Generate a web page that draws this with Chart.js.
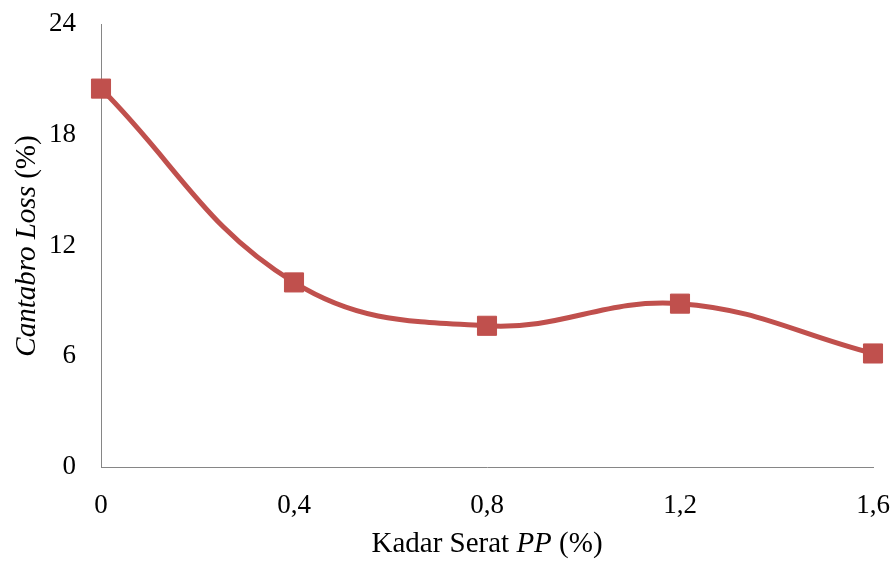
<!DOCTYPE html>
<html>
<head>
<meta charset="utf-8">
<script src="https://cdn.jsdelivr.net/npm/chart.js@4.4.0/dist/chart.umd.min.js"></script>
<style>
  html, body { margin: 0; padding: 0; background: #fff; }
  #wrap { width: 895px; height: 561px; }
</style>
</head>
<body>
<div id="wrap"><canvas id="chart" width="895" height="561"></canvas></div>
<script>
const kadarSerat = ['0', '0,4', '0,8', '1,2', '1,6'];
const cantabroLoss = [20.5, 10.0, 7.65, 8.85, 6.15];
const yTicks = [0, 6, 12, 18, 24];

const serif = '"Liberation Serif", "Times New Roman", serif';
const red = '#C0504D';
const axisGray = '#868686';

// axis titles need italic + normal parts mixed, so draw them by hand
function drawParts(ctx, parts, size) {
    let total = 0;
    parts.forEach(p => {
        ctx.font = (p.italic ? 'italic ' : '') + size + 'px ' + serif;
        p.w = ctx.measureText(p.text).width;
        total += p.w;
    });
    let x = -total / 2;
    parts.forEach(p => {
        ctx.font = (p.italic ? 'italic ' : '') + size + 'px ' + serif;
        ctx.fillText(p.text, x, 0);
        x += p.w;
    });
}

const axisTitles = {
    id: 'axisTitles',
    afterDraw(chart) {
        const ctx = chart.ctx;
        const area = chart.chartArea;
        ctx.save();
        ctx.fillStyle = '#000';
        ctx.textBaseline = 'middle';
        ctx.textAlign = 'left';

        ctx.save();
        ctx.translate((area.left + area.right) / 2, 544);
        drawParts(ctx, [
            { text: 'Kadar Serat ', italic: false },
            { text: 'PP', italic: true },
            { text: ' (%)', italic: false }
        ], 29);
        ctx.restore();

        ctx.save();
        ctx.translate(27, 246);
        ctx.rotate(-Math.PI / 2);
        drawParts(ctx, [
            { text: 'Cantabro Loss', italic: true },
            { text: ' (%)', italic: false }
        ], 29);
        ctx.restore();

        ctx.restore();
    }
};

new Chart(document.getElementById('chart'), {
    type: 'line',
    data: {
        labels: kadarSerat,
        datasets: [{
            data: cantabroLoss,
            borderColor: red,
            backgroundColor: red,
            borderWidth: 5,
            tension: 0.4,
            pointStyle: 'rect',
            pointRadius: 13.5,
            pointBorderWidth: 1,
            pointBorderColor: red,
            pointBackgroundColor: red,
            clip: false
        }]
    },
    options: {
        responsive: false,
        animation: false,
        layout: { padding: { top: 24, right: 22, left: 0, bottom: 0 } },
        plugins: { legend: { display: false }, tooltip: { enabled: false } },
        scales: {
            x: {
                offset: false,
                grid: { display: false },
                border: { display: true, color: axisGray, width: 1 },
                ticks: {
                    color: '#000',
                    padding: 15,
                    maxRotation: 0,
                    font: { family: serif, size: 27 }
                },
                afterFit(scale) {
                    scale.height = 94;
                    scale.paddingLeft = 0;
                    scale.paddingRight = 0;
                }
            },
            y: {
                min: 0,
                max: 24,
                afterBuildTicks(scale) { scale.ticks = yTicks.map(v => ({ value: v })); },
                grid: { display: false },
                border: { display: true, color: axisGray, width: 1 },
                ticks: {
                    color: '#000',
                    padding: 17,
                    font: { family: serif, size: 27 }
                },
                afterFit(scale) {
                    scale.width = 101;
                    scale.paddingTop = 0;
                    scale.paddingBottom = 0;
                }
            }
        }
    },
    plugins: [axisTitles]
});
</script>
</body>
</html>
